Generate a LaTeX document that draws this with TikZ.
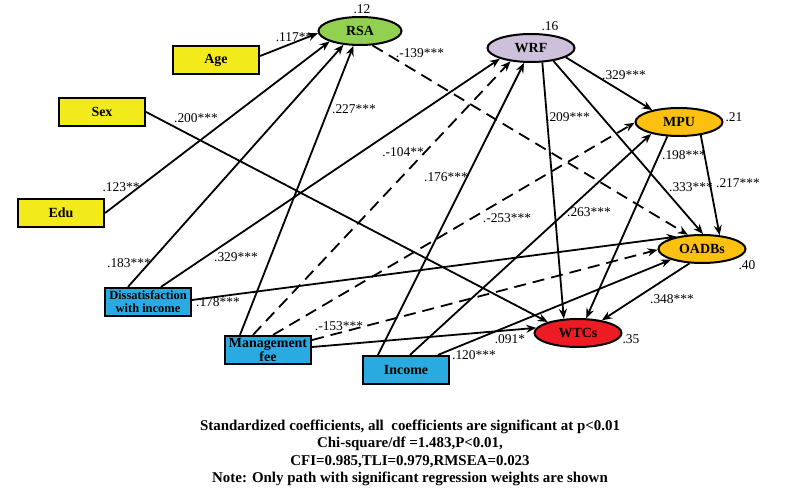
\documentclass[tikz,border=0pt]{standalone}
\usepackage{fontspec}
\setmainfont{Liberation Serif}
\usetikzlibrary{arrows.meta,shapes.geometric}
\definecolor{cyel}{RGB}{242,234,26}
\definecolor{cblue}{RGB}{41,170,225}
\definecolor{cgreen}{RGB}{146,208,80}
\definecolor{clav}{RGB}{204,192,218}
\definecolor{corange}{RGB}{252,192,17}
\definecolor{cred}{RGB}{237,28,36}
\begin{document}
\begin{tikzpicture}[x=1bp,y=-1bp,
  box/.style={draw, line width=2.2bp, minimum width=86bp, minimum height=28bp, inner sep=1bp, align=center, font=\bfseries\fontsize{14}{14}\selectfont},
  lat/.style={ellipse, draw, line width=2bp, minimum width=87bp, minimum height=28bp, inner sep=0pt, font=\bfseries\fontsize{14}{14}\selectfont},
  pth/.style={line width=1.8bp, -{Stealth[length=10bp,width=8bp]}},
  dpth/.style={pth, dash pattern=on 12bp off 7bp},
  lab/.style={inner sep=0pt, font=\fontsize{13.5}{14}\selectfont},
  note/.style={inner sep=0pt, align=center, font=\bfseries\fontsize{15}{17.6}\selectfont}]
\useasboundingbox (0,0) rectangle (785,500);
% latent / outcome ellipses
\node[lat, fill=cgreen, minimum width=83bp] (rsa) at (360,31) {RSA};
\node[lat, fill=clav] (wrf) at (531,48) {WRF};
\node[lat, fill=corange] (mpu) at (679,122) {MPU};
\node[lat, fill=corange] (oadbs) at (702,249) {OADBs};
\node[lat, fill=cred] (wtcs) at (578,333) {WTCs};
% observed boxes
\node[box, fill=cyel] (age) at (216,60) {Age};
\node[box, fill=cyel] (sex) at (102,112) {Sex};
\node[box, fill=cyel] (edu) at (61,213) {Edu};
\node[box, fill=cblue, font=\bfseries\fontsize{12.5}{13.3}\selectfont] (dis) at (148,302) {Dissatisfaction\\with income};
\node[box, fill=cblue, font=\bfseries\fontsize{14}{14}\selectfont] (mgt) at (268,350) {Management\\fee};
\node[box, fill=cblue] (inc) at (406,370) {Income};
% paths
\draw[pth] ([yshift=4bp]age.east) -- (rsa.183);
\draw[pth] (edu.east) -- (rsa.199);
\draw[pth] ([xshift=-20bp]dis.north) -- (rsa.220);
\draw[pth] ([xshift=-28bp]mgt.north) -- (rsa.246);
\draw[pth] ([xshift=13bp]dis.north) -- (wrf.199);
\draw[pth] ([yshift=2bp]dis.east) -- (oadbs.154);
\draw[pth] (sex.east) -- (wtcs.160);
\draw[pth] ([yshift=3bp]mgt.east) -- (wtcs.173);
\draw[dpth] ([yshift=10bp]mgt.east) -- (oadbs.181);
\draw[dpth] ([xshift=-15bp]mgt.north) -- (wrf.213);
\draw[dpth] ([xshift=5bp]mgt.north) -- (mpu.181);
\draw[pth] ([xshift=-28bp]inc.north) -- (wrf.245);
\draw[pth] ([xshift=4bp]inc.north) -- (mpu.203);
\draw[pth] ([xshift=32bp]inc.north) -- (oadbs.199);
\draw[dpth] (rsa.311) -- (oadbs.135);
\draw[pth] (wrf.345) -- (mpu.156);
\draw[pth] (wrf.330) -- (oadbs.86);
\draw[pth] (wrf.308) -- (wtcs.135);
\draw[pth] (mpu.329) -- (oadbs.38);
\draw[pth] (mpu.231) -- (wtcs.61);
\draw[pth] (oadbs.229) -- (wtcs.28);
% R-squared
\node[lab] (r1) at (362,9) {.12};
\node[lab] (r2) at (550,26) {.16};
\node[lab] (r3) at (734,117) {.21};
\node[lab] (r4) at (747,265) {.40};
\node[lab] (r5) at (631,339) {.35};
% coefficients
\node[lab] (c1) at (294,37) {.117**};
\node[lab] (c2) at (196,118) {.200***};
\node[lab] (c3) at (121,187) {.123**};
\node[lab] (c4) at (354,109) {.227***};
\node[lab] (c5) at (420,53) {.-139***};
\node[lab] (c6) at (624,75) {.329***};
\node[lab] (c7) at (568,117) {.209***};
\node[lab] (c8) at (403,152) {.-104**};
\node[lab] (c9) at (684,155) {.198***};
\node[lab] (c10) at (446,177) {.176***};
\node[lab] (c11) at (691,187) {.333***};
\node[lab] (c12) at (738,183) {.217***};
\node[lab] (c13) at (589,212) {.263***};
\node[lab] (c14) at (507,218) {.-253***};
\node[lab] (c15) at (129,263) {.183***};
\node[lab] (c16) at (236,257) {.329***};
\node[lab] (c17) at (218,302) {.178***};
\node[lab] (c18) at (339,326) {.-153***};
\node[lab] (c19) at (672,299) {.348***};
\node[lab] (c20) at (510,339) {.091*};
\node[lab] (c21) at (474,355) {.120***};
% note
\node[note] (nt) at (410,453) {Standardized coefficients, all\ \ coefficients are significant at p<0.01\\Chi-square/df =1.483,P<0.01,\\CFI=0.985,TLI=0.979,RMSEA=0.023\\Note: Only path with significant regression weights are shown};
\end{tikzpicture}
\end{document}
